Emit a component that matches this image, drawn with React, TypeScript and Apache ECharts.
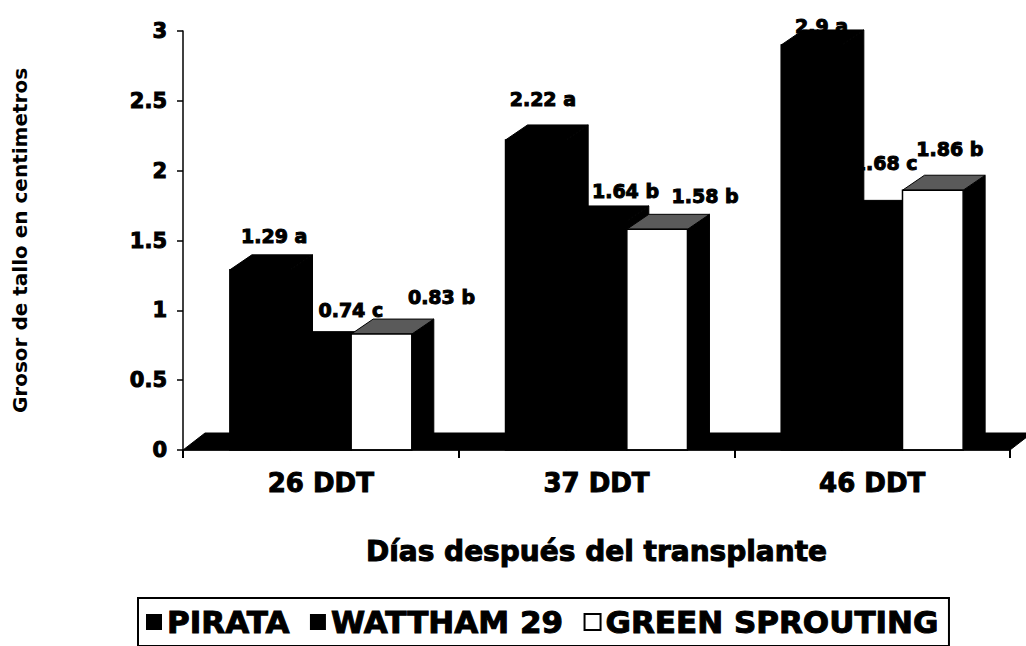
import React, { useEffect, useRef } from "react";
import * as echarts from "echarts";

const categories = ["26 DDT", "37 DDT", "46 DDT"];
const seriesNames = ["PIRATA", "WATTHAM 29", "GREEN SPROUTING"];
const pirata = [1.29, 2.22, 2.9];
const wattham = [0.74, 1.64, 1.68];
const greenSprouting = [0.83, 1.58, 1.86];
const pirataLetters = ["a", "a", "a"];
const watthamLetters = ["c", "b", "c"];
const greenLetters = ["b", "b", "b"];
const yMin = 0;
const yMax = 3;
const yInterval = 0.5;
const xTitle = "Días después del transplante";
const yTitle = "Grosor de tallo en centimetros";

const FONT = "DejaVu Sans";
const DX = 22;
const DY = -15;
const BAR_FRAC = 0.22;
// label nudges relative to each bar's front-top centre [series][category] -> [dx, dy]
const LABEL_NUDGE = [
  [[14, -34], [7, -41], [10, -19]],
  [[30, -37], [29, -30], [13, -52]],
  [[60, -37], [48, -33], [17, -41]],
];

const allValues = [pirata, wattham, greenSprouting];
const allLetters = [pirataLetters, watthamLetters, greenLetters];
const faceFill = ["#000", "#000", "#fff"];
const topFill = ["#000", "#000", "#5a5a5a"];

function barGeom(api: any, si: number) {
  const idx = api.value(0);
  const val = api.value(1);
  const base = api.coord([idx, 0]);
  const top = api.coord([idx, val]);
  const band = api.size([1, 0])[0];
  const w = band * BAR_FRAC;
  const x0 = base[0] + (si - 1.5) * w;
  return { x0, x1: x0 + w, w, yb: base[1], yt: top[1] };
}

function makeBarRender(si: number) {
  return (params: any, api: any) => {
    const { x0, x1, w, yb, yt } = barGeom(api, si);
    return {
      type: "group",
      children: [
        {
          type: "polygon",
          shape: { points: [[x1, yt], [x1 + DX, yt + DY], [x1 + DX, yb + DY], [x1, yb]] },
          style: { fill: "#000", stroke: "#000", lineWidth: 1 },
        },
        {
          type: "polygon",
          shape: { points: [[x0, yt], [x0 + DX, yt + DY], [x1 + DX, yt + DY], [x1, yt]] },
          style: { fill: topFill[si], stroke: "#000", lineWidth: 1 },
        },
        {
          type: "rect",
          shape: { x: x0, y: yt, width: w, height: yb - yt },
          style: { fill: faceFill[si], stroke: "#000", lineWidth: 1.5 },
        },
      ],
    };
  };
}

function labelRender(params: any, api: any) {
  const si = api.value(2);
  const idx = api.value(0);
  const val = api.value(1);
  const { x0, w, yt } = barGeom(api, si);
  const nudge = LABEL_NUDGE[si][idx];
  return {
    type: "text",
    style: {
      text: `${val} ${allLetters[si][idx]}`,
      x: x0 + w / 2 + nudge[0],
      y: yt + nudge[1],
      align: "center",
      verticalAlign: "middle",
      fill: "#000",
      stroke: "#000",
      lineWidth: 1,
      font: `bold 19px "${FONT}"`,
    },
  };
}

function floorRender(params: any) {
  const cs = params.coordSys;
  const yb = cs.y + cs.height;
  const xl = cs.x;
  const xr = cs.x + cs.width;
  return {
    type: "polygon",
    shape: { points: [[xl, yb], [xl + DX, yb + DY - 2], [xr + DX, yb + DY - 2], [xr, yb]] },
    style: { fill: "#000", stroke: "#000", lineWidth: 1 },
  };
}

const heavy = { textBorderColor: "#000", textBorderWidth: 1 };

export default function App() {
  const ref = useRef<HTMLDivElement>(null);
  useEffect(() => {
    if (!ref.current) return;
    const chart = echarts.init(ref.current, null, { renderer: "svg" });
    const labelData: number[][] = [];
    allValues.forEach((arr, si) => arr.forEach((v, i) => labelData.push([i, v, si])));
    const series: any[] = [
      {
        type: "custom",
        name: "floor",
        renderItem: floorRender,
        data: [[0, 0]],
        clip: false,
        silent: true,
        z: 1,
      },
    ];
    allValues.forEach((arr, si) => {
      series.push({
        type: "custom",
        name: seriesNames[si],
        renderItem: makeBarRender(si),
        data: arr.map((v, i) => [i, v]),
        clip: false,
        itemStyle: { color: faceFill[si] },
        z: 2 + si,
      });
    });
    series.push({
      type: "custom",
      name: "labels",
      renderItem: labelRender,
      data: labelData,
      clip: false,
      silent: true,
      z: 10,
    });
    chart.setOption({
      animation: false,
      backgroundColor: "#fff",
      grid: { left: 183, right: 16, top: 31, bottom: 196, containLabel: false, outerBoundsMode: "none" },
      xAxis: {
        type: "category",
        data: categories,
        name: xTitle,
        nameLocation: "middle",
        nameGap: 87,
        nameTextStyle: { fontFamily: FONT, fontWeight: "bold", fontSize: 28, color: "#000", ...heavy },
        axisLine: { show: true, lineStyle: { color: "#000", width: 1.5 } },
        axisTick: { show: true, length: 8, lineStyle: { color: "#000", width: 2 } },
        axisLabel: { fontFamily: FONT, fontWeight: "bold", fontSize: 26, color: "#000", margin: 20, ...heavy },
        splitLine: { show: false },
        z: 20,
      },
      yAxis: {
        type: "value",
        min: yMin,
        max: yMax,
        interval: yInterval,
        name: yTitle,
        nameLocation: "middle",
        nameRotate: 90,
        nameGap: 153,
        nameTextStyle: { fontFamily: FONT, fontWeight: "bold", fontSize: 20, color: "#000" },
        axisLine: { show: true, lineStyle: { color: "#000", width: 1.5 } },
        axisTick: { show: true, length: 6, lineStyle: { color: "#000", width: 1.5 } },
        axisLabel: { fontFamily: FONT, fontWeight: "bold", fontSize: 21, color: "#000", margin: 16, ...heavy },
        splitLine: { show: false },
      },
      legend: {
        data: [
          { name: seriesNames[0], icon: "rect", itemStyle: { color: "#000" } },
          { name: seriesNames[1], icon: "rect", itemStyle: { color: "#000" } },
          { name: seriesNames[2], icon: "rect", itemStyle: { color: "#fff", borderColor: "#000", borderWidth: 2 } },
        ],
        left: 138,
        top: 598,
        orient: "horizontal",
        itemWidth: 16,
        itemHeight: 16,
        itemGap: 20,
        borderColor: "#000",
        borderWidth: 2,
        padding: [8, 10, 8, 8],
        selectedMode: false,
        textStyle: { fontFamily: FONT, fontWeight: "bold", fontSize: 31, color: "#000", ...heavy },
      },
      series,
    });
    return () => chart.dispose();
  }, []);
  return (
    <div
      ref={ref}
      style={{ position: "fixed", left: 0, top: 0, width: 1026, height: 646, background: "#fff" }}
    />
  );
}
